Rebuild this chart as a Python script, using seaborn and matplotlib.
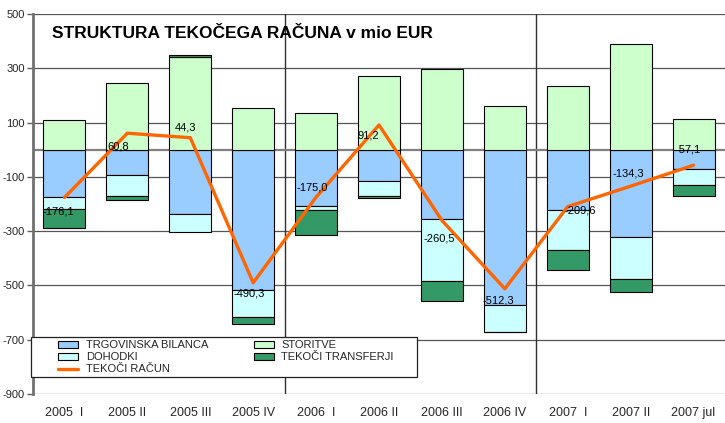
import numpy as np
import pandas as pd
import matplotlib
matplotlib.use("Agg")
import matplotlib.pyplot as plt
import seaborn as sns
from matplotlib.patches import Patch, Rectangle
from matplotlib.lines import Line2D

# ---- data (mio EUR) ----
categories = ["2005  I", "2005 II", "2005 III", "2005 IV",
              "2006  I", "2006 II", "2006 III", "2006 IV",
              "2007  I", "2007 II", "2007 jul"]
trgovinska_bilanca = [-175, -93, -238, -518, -206, -117, -256, -571, -223, -322, -72]
storitve = [111, 245, 341, 152, 137, 270, 298, 160, 233, 389, 112]
dohodki = [-44, -77, -66, -99, -16, -54, -227, -99, -145, -155, -59]
tekoci_transferji = [-68, -14, 7, -25, -91, -7, -76, -2, -75, -47, -38]
tekoci_racun = [-176.1, 60.8, 44.3, -490.3, -175.0, 91.2, -260.5, -512.3, -209.6, -134.3, -57.1]
y_ticks = [500, 300, 100, -100, -300, -500, -700, -900]

# label offsets in pixels (dx right, dy down) for the current-account labels
label_offsets = [(-6, 14), (-9, 13), (-5, -10), (-4, 11), (-4, -10), (-11, 11),
                 (-3, 18), (-7, 12), (13, 4), (-2, -13), (-5, -16)]

sns.set_theme(style="white")
plt.rcParams["font.family"] = ["Liberation Sans Narrow", "Liberation Sans", "DejaVu Sans"]

W, H = 725, 423
fig = plt.figure(figsize=(W / 100, H / 100), dpi=100)
ax = fig.add_axes([33 / W, 29 / H, 692 / W, 380 / H])

series = [
    ("TRGOVINSKA BILANCA", trgovinska_bilanca, "#99CCFF"),
    ("STORITVE", storitve, "#CCFFCC"),
    ("DOHODKI", dohodki, "#CCFFFF"),
    ("TEKOČI TRANSFERJI", tekoci_transferji, "#339966"),
]

pos_base = np.zeros(len(categories))
neg_base = np.zeros(len(categories))
for name, vals, col in series:
    vals = np.asarray(vals, dtype=float)
    bottoms = np.where(vals >= 0, pos_base, neg_base)
    df = pd.DataFrame({"cat": categories, "val": vals})
    sns.barplot(data=df, x="cat", y="val", order=categories, bottom=bottoms,
                color=col, saturation=1, width=0.667, edgecolor="black",
                linewidth=0.8, ax=ax, zorder=3, errorbar=None)
    pos_base = np.where(vals >= 0, pos_base + vals, pos_base)
    neg_base = np.where(vals < 0, neg_base + vals, neg_base)

xpos = np.arange(len(categories))
sns.lineplot(x=xpos, y=tekoci_racun, color="#FF6600", linewidth=2.4, ax=ax,
             zorder=5, sort=False)

for i, (v, (dx, dy)) in enumerate(zip(tekoci_racun, label_offsets)):
    txt = f"{v:.1f}".replace(".", ",")
    ax.annotate(txt, (i, v), xytext=(dx * 0.72, -dy * 0.72), textcoords="offset points",
                ha="center", va="center", fontsize=8, color="black", zorder=6)

ax.set_xlim(-0.5, len(categories) - 0.5)
ax.set_ylim(-900, 500)
ax.set_yticks(y_ticks)
ax.set_yticklabels([str(t) for t in y_ticks], fontsize=8)
ax.set_xticks(xpos)
ax.set_xticklabels(categories, fontsize=9)
ax.set_xlabel("")
ax.set_ylabel("")
ax.tick_params(axis="x", length=0, pad=9)
ax.tick_params(axis="y", length=4, width=1, color="#606060", pad=2, direction="out", left=True)

for yv in y_ticks:
    ax.axhline(yv, color="#555555", linewidth=0.9, zorder=1)
ax.axhline(0, color="#808080", linewidth=1.6, zorder=2)
for xv in (3.5, 7.5):
    ax.axvline(xv, color="#303030", linewidth=1.0, zorder=1)

for s in ("top", "right", "bottom"):
    ax.spines[s].set_visible(False)
ax.spines["left"].set_color("#707070")
ax.spines["left"].set_linewidth(2)

fig.text(52 / W, 1 - 33 / H, "STRUKTURA TEKOČEGA RAČUNA v mio EUR", fontsize=12.5,
         fontweight="bold", ha="left", va="center", color="black")

# legend frame
fig.patches.append(Rectangle((31 / W, 1 - 377 / H), 386 / W, 40 / H, transform=fig.transFigure,
                             facecolor="white", edgecolor="#202020", linewidth=0.9, zorder=4))
handles = [
    Patch(facecolor="#99CCFF", edgecolor="black", linewidth=0.8),
    Patch(facecolor="#CCFFFF", edgecolor="black", linewidth=0.8),
    Line2D([0], [0], color="#FF6600", linewidth=2.4),
    Patch(facecolor="#CCFFCC", edgecolor="black", linewidth=0.8),
    Patch(facecolor="#339966", edgecolor="black", linewidth=0.8),
]
labels = ["TRGOVINSKA BILANCA", "DOHODKI", "TEKOČI RAČUN", "STORITVE", "TEKOČI TRANSFERJI"]
leg = fig.legend(handles, labels, ncol=2, loc="upper left", bbox_to_anchor=(58 / W, 1 - 340 / H),
                 frameon=False, fontsize=8, handlelength=1.8, handleheight=0.6,
                 handletextpad=0.7, labelspacing=0.2, columnspacing=4.1, borderpad=0,
                 borderaxespad=0)
leg.set_zorder(6)

fig.savefig("out.png", dpi=100)
